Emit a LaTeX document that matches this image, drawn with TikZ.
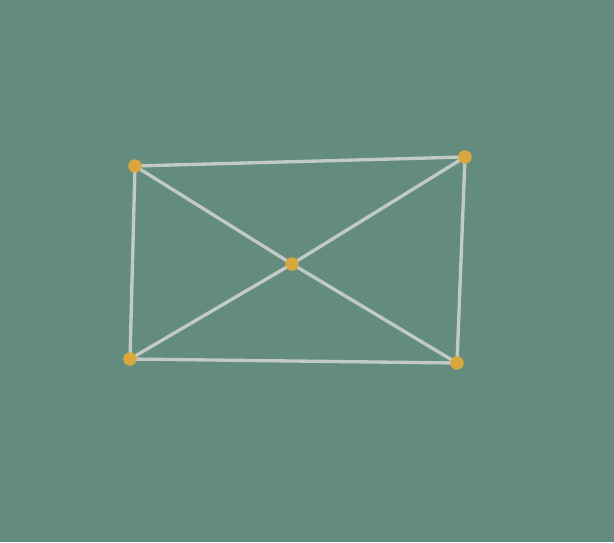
\documentclass[tikz,border=0pt]{standalone}
\usetikzlibrary{positioning}
\definecolor{board}{HTML}{648C7E}
\definecolor{chalk}{HTML}{D2D6D2}
\definecolor{dotyellow}{HTML}{D8A83E}
\begin{document}
\begin{tikzpicture}[x=0.02cm,y=-0.02cm,
		vertex/.style={circle, fill=dotyellow, inner sep=0pt, minimum size=0.27cm},
		chalkline/.style={draw=chalk, line width=1.9pt, line cap=round, opacity=0.85},
		]
		% Board
		\fill[board] (0,0) rectangle (614,542);
		% Corners and centre
		\coordinate (tl) at (135,166);
		\coordinate (tr) at (465,157);
		\coordinate (bl) at (130,359);
		\coordinate (br) at (457,363);
		\coordinate (c) at (292,264);
		
		% Outline
		\draw[chalkline] (tl) -- (tr) -- (br) -- (bl) -- cycle;
		% Diagonals
		\draw[chalkline] (tl) -- (c) -- (br);
		\draw[chalkline] (tr) -- (c) -- (bl);
		
		% Dots on top
		\foreach \v in {tl,tr,bl,br,c}
		\node[vertex] (\v dot) at (\v) {};
\end{tikzpicture}
\end{document}
